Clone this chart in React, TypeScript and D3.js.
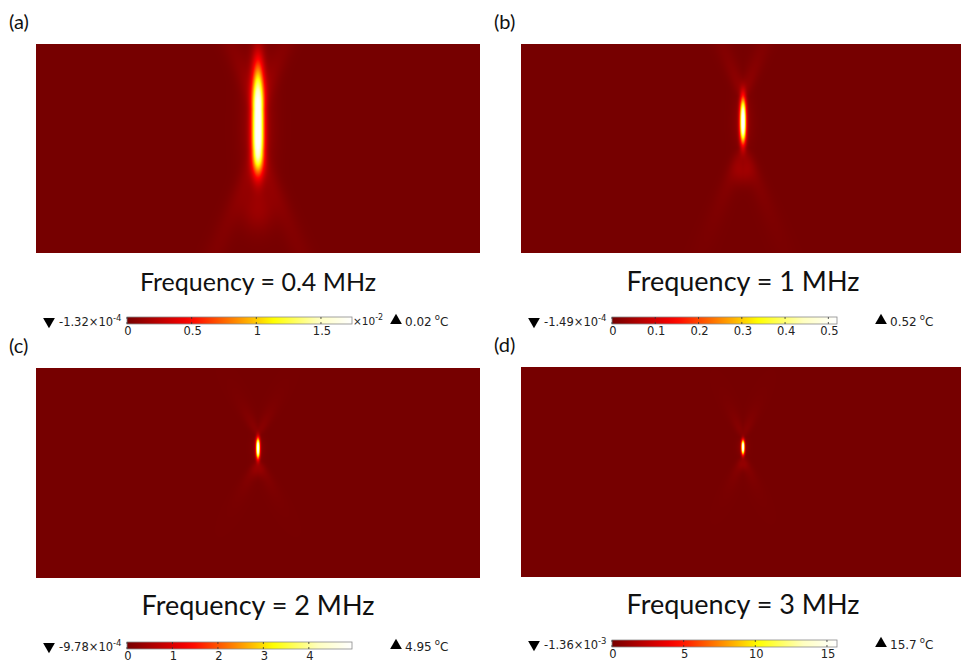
import React, { useMemo } from "react";
import * as d3 from "d3";

// ---- Panel data -----------------------------------------------------------
const PANEL_TAGS = ["(a)", "(b)", "(c)", "(d)"];
const FREQUENCIES_MHZ = [0.4, 1, 2, 3];
// Temperature rise range (°C) for each excitation frequency
const T_MAX = [0.0174, 0.52, 4.95, 15.7];
const T_MIN_MANTISSA = ["-1.32", "-1.49", "-9.78", "-1.36"];
const T_MIN_EXPONENT = ["-4", "-4", "-4", "-3"];
const T_MAX_LABEL = ["0.02", "0.52", "4.95", "15.7"];
// Colour-bar tick values (panel a is shown in units of 10^-2)
const BAR_UNIT_EXP = [-2, 0, 0, 0];
const BAR_TICKS = [
  [0, 0.5, 1, 1.5],
  [0, 0.1, 0.2, 0.3, 0.4, 0.5],
  [0, 1, 2, 3, 4],
  [0, 5, 10, 15],
];

// ---- Focal heating zone (mm, domain 44.4 x 20.9 mm) ------------------------
const FOCUS_DEPTH = [8.6, 7.8, 8.0, 8.0]; // depth of the peak below the top edge
const LOBE_UP = [6.3, 2.4, 1.0, 0.7]; // axial extent toward the top
const LOBE_DOWN = [4.2, 2.1, 1.05, 0.75]; // axial extent toward the bottom
const LOBE_POWER = [3, 2.5, 2.5, 2.5];
const LOBE_WIDTH = [0.42, 0.22, 0.14, 0.12]; // lateral sigma
const HALO_AMP = [0.09, 0.06, 0.05, 0.05]; // diffuse warm region round the focus
const HALO_SCALE = [2.6, 3, 3, 3];
const SIDE_START = [2.1, 2.6, 1.3, 1.0]; // where the X-shaped side lobes leave the focus
const SIDE_SLOPE = [0.42, 0.4, 0.5, 0.42];
const SIDE_AMP = [0.05, 0.06, 0.07, 0.07];
const SIDE_WIDTH = [0.6, 0.45, 0.32, 0.28];
const SIDE_DECAY = [12, 5, 1.8, 1.6];
const TAIL_OFFSET = [8.0, 5.0, 2.2, 1.8]; // secondary axial lobe below the focus
const TAIL_AMP = [0.07, 0.07, 0.04, 0.035];
const TAIL_SIZE = [1.2, 0.7, 0.4, 0.3];

// ---- Layout --------------------------------------------------------------
const SVG_W = 961;
const SVG_H = 662;
const PANEL_X = [36, 521, 36, 521];
const PANEL_Y = [44, 44, 368, 367];
const PANEL_W = 444;
const PANEL_H = [209, 209, 210, 210];
const DOMAIN_W = 44.4;
const BAR_LEN = 225;
const BAR_H = 7;
const BAR_X = [127, 612, 127, 612];
const BAR_Y = [317, 317, 642, 640];
const TITLE_SIZE = [25, 27, 27, 27];

const COLOR_POS = [0, 0.28, 0.47, 0.65, 0.85, 1];
const COLOR_STOPS = ["#760000", "#ff0000", "#ff8000", "#ffff00", "#ffffc0", "#ffffff"];

function thermal(tMax: number) {
  return d3
    .scaleLinear<string>()
    .domain(COLOR_POS.map((p) => p * tMax))
    .range(COLOR_STOPS)
    .interpolate(d3.interpolateRgb)
    .clamp(true);
}

function fieldAt(k: number, x: number, y: number): number {
  const dv = y - FOCUS_DEPTH[k];
  const du = x;
  const s = dv < 0 ? LOBE_UP[k] : LOBE_DOWN[k];
  const p = LOBE_POWER[k];
  let t = Math.exp(-(Math.pow(Math.abs(dv) / s, p) + 0.5 * (du / LOBE_WIDTH[k]) ** 2));
  const hs = HALO_SCALE[k];
  t +=
    HALO_AMP[k] *
    Math.exp(-(Math.pow(Math.abs(dv) / (s * 1.2), 2) + 0.5 * (du / (LOBE_WIDTH[k] * hs)) ** 2));
  const a = Math.abs(dv) - SIDE_START[k];
  if (a > 0) {
    const off = Math.abs(du) - SIDE_SLOPE[k] * a;
    const w = SIDE_WIDTH[k] * (1 + a / (2 * SIDE_DECAY[k]));
    t +=
      SIDE_AMP[k] *
      Math.exp(-0.5 * (off / w) ** 2) *
      Math.exp(-a / SIDE_DECAY[k]) *
      (1 - Math.exp(-a / 0.6));
  }
  const ts = TAIL_SIZE[k];
  t +=
    TAIL_AMP[k] *
    Math.exp(-0.5 * ((dv - TAIL_OFFSET[k]) / (ts * 1.3)) ** 2 - 0.5 * (du / ts) ** 2);
  return Math.min(1, t) * T_MAX[k];
}

function useHeatmap(k: number): string {
  return useMemo(() => {
    const w = PANEL_W;
    const h = PANEL_H[k];
    const xs = d3.scaleLinear().domain([-DOMAIN_W / 2, DOMAIN_W / 2]).range([0, w]);
    const ys = d3.scaleLinear().domain([0, h / 10]).range([0, h]);
    const color = thermal(T_MAX[k]);
    const canvas = document.createElement("canvas");
    canvas.width = w;
    canvas.height = h;
    const ctx = canvas.getContext("2d")!;
    const img = ctx.createImageData(w, h);
    for (let j = 0; j < h; j++) {
      const y = ys.invert(j + 0.5);
      for (let i = 0; i < w; i++) {
        const x = xs.invert(i + 0.5);
        const c = d3.rgb(color(fieldAt(k, x, y)));
        const o = (j * w + i) * 4;
        img.data[o] = c.r;
        img.data[o + 1] = c.g;
        img.data[o + 2] = c.b;
        img.data[o + 3] = 255;
      }
    }
    ctx.putImageData(img, 0, 0);
    return canvas.toDataURL();
  }, [k]);
}

const SMALL_FONT = "'DejaVu Sans', sans-serif";
const TITLE_FONT = "Lato, 'Open Sans', sans-serif";

function ColorBar({ k }: { k: number }) {
  const unit = Math.pow(10, BAR_UNIT_EXP[k]);
  const barMax = T_MAX[k] / unit;
  const bx = d3.scaleLinear().domain([0, barMax]).range([BAR_X[k], BAR_X[k] + BAR_LEN]);
  const color = thermal(barMax);
  const gid = `bar-grad-${k}`;
  const y0 = BAR_Y[k];
  const mid = y0 + BAR_H / 2;
  const textY = y0 + 9;
  const stops = d3.range(0, 1.0001, 0.05);
  const tri = d3.symbol(d3.symbolTriangle, 60)()!;
  const leftX = BAR_X[k] - 82;
  const rightX = BAR_X[k] + 265;
  return (
    <g>
      <defs>
        <linearGradient id={gid} x1="0" x2="1" y1="0" y2="0">
          {stops.map((s) => (
            <stop key={s} offset={s} stopColor={color(s * barMax)} />
          ))}
        </linearGradient>
      </defs>
      <path d={tri} transform={`translate(${leftX + 4},${mid + 1}) rotate(180)`} fill="#000" />
      <text x={leftX + 14} y={textY} fontFamily={SMALL_FONT} fontSize={11.5} fill="#222">
        {T_MIN_MANTISSA[k]}×10
        <tspan dy={-5} fontSize={8.5}>
          {T_MIN_EXPONENT[k]}
        </tspan>
      </text>
      <rect x={bx(0)} y={y0} width={BAR_LEN} height={BAR_H} fill={`url(#${gid})`} stroke="#8a8a8a" strokeWidth={0.8} />
      {BAR_TICKS[k].map((v) => (
        <g key={v}>
          <line x1={bx(v)} x2={bx(v)} y1={y0} y2={y0 + 2} stroke="#333" strokeWidth={0.8} />
          <line x1={bx(v)} x2={bx(v)} y1={y0 + BAR_H - 2} y2={y0 + BAR_H} stroke="#333" strokeWidth={0.8} />
          <text x={bx(v) + 1} y={y0 + 18} textAnchor="middle" fontFamily={SMALL_FONT} fontSize={11.5} fill="#222">
            {v}
          </text>
        </g>
      ))}
      {BAR_UNIT_EXP[k] !== 0 && (
        <text x={bx(barMax) + 1} y={textY - 1} fontFamily={SMALL_FONT} fontSize={10.5} fill="#222">
          ×10
          <tspan dy={-5} fontSize={8}>
            {BAR_UNIT_EXP[k]}
          </tspan>
        </text>
      )}
      <path d={tri} transform={`translate(${rightX + 4},${mid})`} fill="#000" />
      <text x={rightX + 13} y={textY} fontFamily={SMALL_FONT} fontSize={12} fill="#222">
        {T_MAX_LABEL[k]}
        <tspan dx={3} dy={-6} fontSize={8.5}>
          o
        </tspan>
        <tspan dy={6} fontSize={12}>
          C
        </tspan>
      </text>
    </g>
  );
}

function Panel({ k }: { k: number }) {
  const href = useHeatmap(k);
  const x0 = PANEL_X[k];
  const y0 = PANEL_Y[k];
  return (
    <g>
      <text x={PANEL_X[k] - 27} y={y0 - 15} fontFamily={TITLE_FONT} fontSize={20} fill="#111">
        {PANEL_TAGS[k]}
      </text>
      <image href={href} x={x0} y={y0} width={PANEL_W} height={PANEL_H[k]} preserveAspectRatio="none" />
      <text
        x={x0 + PANEL_W / 2}
        y={y0 + 247}
        textAnchor="middle"
        fontFamily={TITLE_FONT}
        fontSize={TITLE_SIZE[k]}
        fill="#111"
      >
        {`Frequency = ${FREQUENCIES_MHZ[k]} MHz`}
      </text>
      <ColorBar k={k} />
    </g>
  );
}

export default function App() {
  return (
    <div style={{ position: "absolute", left: 0, top: 0 }}>
      <svg width={SVG_W} height={SVG_H} viewBox={`0 0 ${SVG_W} ${SVG_H}`} style={{ display: "block", background: "#fff" }}>
        {PANEL_TAGS.map((_, k) => (
          <Panel key={k} k={k} />
        ))}
      </svg>
    </div>
  );
}
